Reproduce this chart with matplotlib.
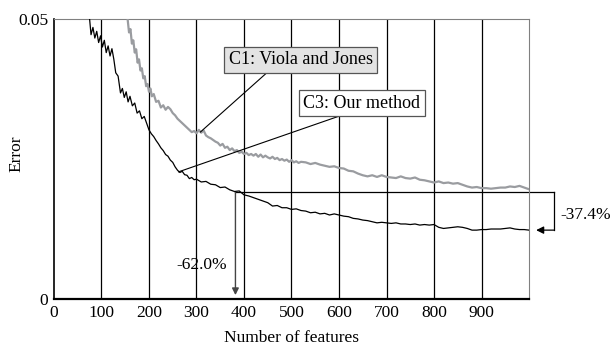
import numpy as np
import matplotlib
matplotlib.use('Agg')
import matplotlib.pyplot as plt

# error of C3 (our method)
feat_c3 = [75, 78, 82, 86, 90, 94, 98, 102, 106, 110, 114, 118, 122, 126, 130, 135, 140, 144, 148, 152,
           156, 160, 165, 170, 175, 180, 185, 190, 195, 200, 205, 210, 215, 220, 225, 230, 235, 240, 245, 250,
           255, 260, 265, 270, 275, 280, 285, 290, 295, 300, 310, 320, 330, 340, 350, 360, 370, 380, 390, 400,
           410, 420, 430, 440, 450, 460, 470, 480, 490, 500, 510, 520, 530, 540, 550, 560, 570, 580, 590, 600,
           610, 620, 630, 640, 650, 660, 670, 680, 690, 700, 710, 720, 730, 740, 750, 760, 770, 780, 790, 800,
           810, 820, 830, 840, 850, 860, 870, 880, 890, 900, 910, 920, 930, 940, 950, 960, 970, 980, 990, 1000]
err_c3 = [.0500, .0472, .0485, .0466, .0478, .0458, .0470, .0450, .0462, .0440, .0452, .0434, .0447, .0428, .0404, .0398, .0368, .0376, .0360, .0370,
          .0352, .0362, .0345, .0350, .0332, .0336, .0322, .0326, .0314, .0302, .0295, .0290, .0283, .0277, .0270, .0265, .0258, .0255, .0248, .0244,
          .0236, .0230, .0226, .0228, .0222, .0221, .0215, .0217, .0213, .0214, .0209, .0210, .0205, .0204, .0199, .0200, .0195, .0192, .0193, .0186,
          .0184, .0181, .0178, .0175, .0172, .0166, .0167, .0163, .0163, .0160, .0161, .0158, .0157, .0154, .0155, .0152, .0153, .0150, .0152, .0150,
          .0148, .0147, .0144, .0143, .0141, .0140, .0138, .0136, .0137, .0136, .0135, .0136, .0134, .0134, .0133, .0134, .0132, .0133, .0132, .0133,
          .0128, .0126, .0127, .0128, .0129, .0128, .0126, .0123, .0123, .0124, .0124, .0125, .0125, .0125, .0126, .0127, .0125, .0124, .0124, .0123]

# error of C1 (Viola and Jones)
feat_c1 = [155, 158, 161, 164, 167, 170, 173, 176, 179, 182, 185, 188, 191, 194, 197, 200, 203, 206, 210, 215,
           220, 225, 230, 235, 240, 245, 250, 255, 260, 265, 270, 275, 280, 285, 290, 295, 300, 305, 310, 315,
           320, 325, 330, 335, 340, 345, 350, 355, 360, 365, 370, 375, 380, 385, 390, 395, 400, 405, 410, 415,
           420, 425, 430, 435, 440, 445, 450, 455, 460, 465, 470, 475, 480, 485, 490, 495, 500, 505, 510, 515,
           520, 530, 540, 550, 560, 570, 580, 590, 600, 610, 620, 630, 640, 650, 660, 670, 680, 690, 700, 710,
           720, 730, 740, 750, 760, 770, 780, 790, 800, 810, 820, 830, 840, 850, 860, 870, 880, 890, 900, 910,
           920, 930, 940, 950, 960, 970, 980, 990, 1000]
err_c1 = [.0500, .0476, .0482, .0456, .0462, .0440, .0446, .0422, .0428, .0408, .0412, .0394, .0398, .0380, .0384, .0370, .0376, .0362, .0366, .0352,
          .0354, .0342, .0346, .0338, .0343, .0339, .0332, .0328, .0322, .0318, .0314, .0310, .0306, .0302, .0298, .0300, .0296, .0302, .0297, .0301,
          .0292, .0289, .0287, .0284, .0281, .0279, .0274, .0277, .0270, .0272, .0266, .0269, .0264, .0266, .0261, .0263, .0259, .0261, .0257, .0259,
          .0256, .0259, .0254, .0258, .0253, .0256, .0253, .0251, .0254, .0250, .0252, .0248, .0250, .0247, .0249, .0245, .0248, .0244, .0246, .0243,
          .0245, .0244, .0241, .0243, .0240, .0238, .0236, .0237, .0234, .0233, .0229, .0228, .0224, .0221, .0219, .0221, .0218, .0221, .0218, .0217,
          .0216, .0219, .0216, .0215, .0217, .0213, .0212, .0210, .0208, .0210, .0207, .0208, .0206, .0207, .0204, .0201, .0199, .0200, .0198, .0198,
          .0197, .0198, .0199, .0199, .0201, .0200, .0202, .0199, .0196]

xticks = [0, 100, 200, 300, 400, 500, 600, 700, 800, 900]
err_target = 0.0191   # final C1 error, reached by C3 at ~382 features
feat_target = 382
feat_end = 1000
err_end = 0.0123

plt.rcParams['font.family'] = ['Liberation Serif', 'DejaVu Serif']
plt.rcParams['font.size'] = 12.5

fig = plt.figure(figsize=(6.12, 3.47), dpi=100)
ax = fig.add_axes([0.0882, 0.1383, 0.7762, 0.8069])

for x in xticks[1:]:
    ax.axvline(x, color='black', lw=0.9, zorder=1)

ax.plot(feat_c1, err_c1, color='#9a9ca0', lw=1.6, zorder=3)
ax.plot(feat_c3, err_c3, color='black', lw=0.9, zorder=4)

ax.set_xlim(0, 1000)
ax.set_ylim(0, 0.05)
ax.set_xticks(xticks)
ax.set_yticks([0, 0.05])
ax.set_yticklabels(['0', '0.05'])
ax.tick_params(length=0, pad=4)
ax.set_xlabel('Number of features')
ax.xaxis.set_label_coords(0.5, -0.112)
ax.set_ylabel('Error')
ax.yaxis.set_label_coords(-0.062, 0.52)

for s in ['top', 'right']:
    ax.spines[s].set_color('#808080')
ax.spines['left'].set_linewidth(1.2)
ax.spines['bottom'].set_linewidth(1.6)

# -62.0% : horizontal reference and arrow down
ax.plot([feat_target, 1053], [err_target, err_target], color='black', lw=0.9,
        clip_on=False, zorder=2)
ax.annotate('', xy=(feat_target, 0.0007), xytext=(feat_target, err_target),
            arrowprops=dict(arrowstyle='-|>', color='#444444', lw=1.0,
                            mutation_scale=10, shrinkA=0, shrinkB=0))
ax.text(310, 0.0061, '-62.0%', ha='center', va='center')

# -37.4% : bracket on the right
ax.plot([1053, 1053], [err_target, err_end], color='black', lw=0.9, clip_on=False)
ax.annotate('', xy=(1015, err_end), xytext=(1053, err_end),
            arrowprops=dict(arrowstyle='-|>', color='black', lw=0.9,
                            mutation_scale=11, shrinkA=0, shrinkB=0),
            annotation_clip=False)
ax.text(1067, 0.0150, '-37.4%', ha='left', va='center')

ax.annotate('C1: Viola and Jones', xy=(308, 0.0298), xytext=(519, 0.0427),
            ha='center', va='center', fontsize=13, zorder=6,
            bbox=dict(boxstyle='square,pad=0.25', fc='#e3e3e3', ec='#555555', lw=0.9),
            arrowprops=dict(arrowstyle='-', color='black', lw=0.8,
                            relpos=(0.3, 0), shrinkA=0, shrinkB=0))
ax.annotate('C3: Our method', xy=(262, 0.0227), xytext=(648, 0.0350),
            ha='center', va='center', fontsize=13, zorder=6,
            bbox=dict(boxstyle='square,pad=0.25', fc='white', ec='#555555', lw=0.9),
            arrowprops=dict(arrowstyle='-', color='black', lw=0.8,
                            relpos=(0.42, 0), shrinkA=0, shrinkB=0))

fig.savefig('out.png', dpi=100)
